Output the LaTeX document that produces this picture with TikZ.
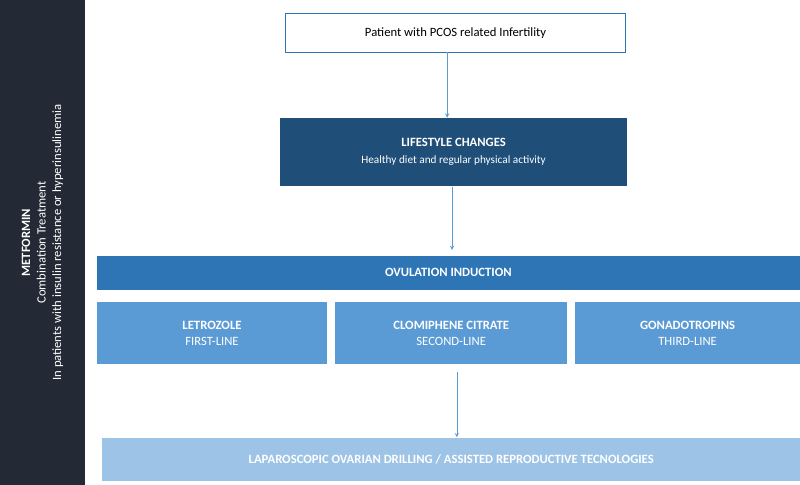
\documentclass[tikz,border=0pt]{standalone}
\usepackage{fontspec}
\setmainfont{Carlito}
\usetikzlibrary{positioning}
\definecolor{barDark}{HTML}{232A35}
\definecolor{boxNavy}{HTML}{1F4E79}
\definecolor{boxBlue}{HTML}{2E75B6}
\definecolor{boxMid}{HTML}{5B9BD5}
\definecolor{boxLight}{HTML}{9DC3E6}
\begin{document}
\begin{tikzpicture}[%
% common options for boxes:
box/.style = {rectangle, align=center, text=white, inner sep=0, font=\small},
% common options for arrows:
link/.style = {->, draw=boxMid, >=stealth}]
\useasboundingbox (0,0) rectangle (20,-12.125);
\node[box,fill=barDark,minimum width=2.125cm,minimum height=12.125cm] (met) at (1.0625,-6.0625) {};
\node[rotate=90,align=center,text=white,font=\small] (metT) at (met.center) {\textbf{METFORMIN}\\Combination Treatment\\In patients with insulin resistance or hyperinsulinemia};
\node[box,draw=boxBlue,text=black,fill=white,minimum width=8.5cm,minimum height=0.98cm] (pat) at (11.39,-0.82) {Patient with PCOS related Infertility};
\node[box,fill=boxNavy,minimum width=8.68cm,minimum height=1.7cm] (life) at (11.34,-3.8) {\textbf{LIFESTYLE CHANGES}\\[1pt]{\footnotesize Healthy diet and regular physical activity}};
\node[box,fill=boxBlue,minimum width=17.58cm,minimum height=0.85cm] (ovu) at (11.21,-6.82) {\textbf{OVULATION INDUCTION}};
\node[box,fill=boxMid,minimum width=5.75cm,minimum height=1.55cm] (let) at (5.3,-8.33) {\textbf{LETROZOLE}\\FIRST-LINE};
\node[box,fill=boxMid,minimum width=5.8cm,minimum height=1.55cm] (clo) at (11.28,-8.33) {\textbf{CLOMIPHENE CITRATE}\\SECOND-LINE};
\node[box,fill=boxMid,minimum width=5.63cm,minimum height=1.55cm] (gon) at (17.19,-8.33) {\textbf{GONADOTROPINS}\\THIRD-LINE};
\node[box,fill=boxLight,minimum width=17.45cm,minimum height=1.08cm] (lap) at (11.28,-11.48) {\textbf{LAPAROSCOPIC OVARIAN DRILLING / ASSISTED REPRODUCTIVE TECNOLOGIES}};
\coordinate (a1) at (11.18,-1.31);
\coordinate (a2) at (11.3,-4.68);
\coordinate (a3) at (11.42,-9.3);
\draw[link] (a1) to (a1 |- life.north);
\draw[link] (a2) to (11.3,-6.25);
\draw[link] (a3) to (a3 |- lap.north);
\end{tikzpicture}
\end{document}
